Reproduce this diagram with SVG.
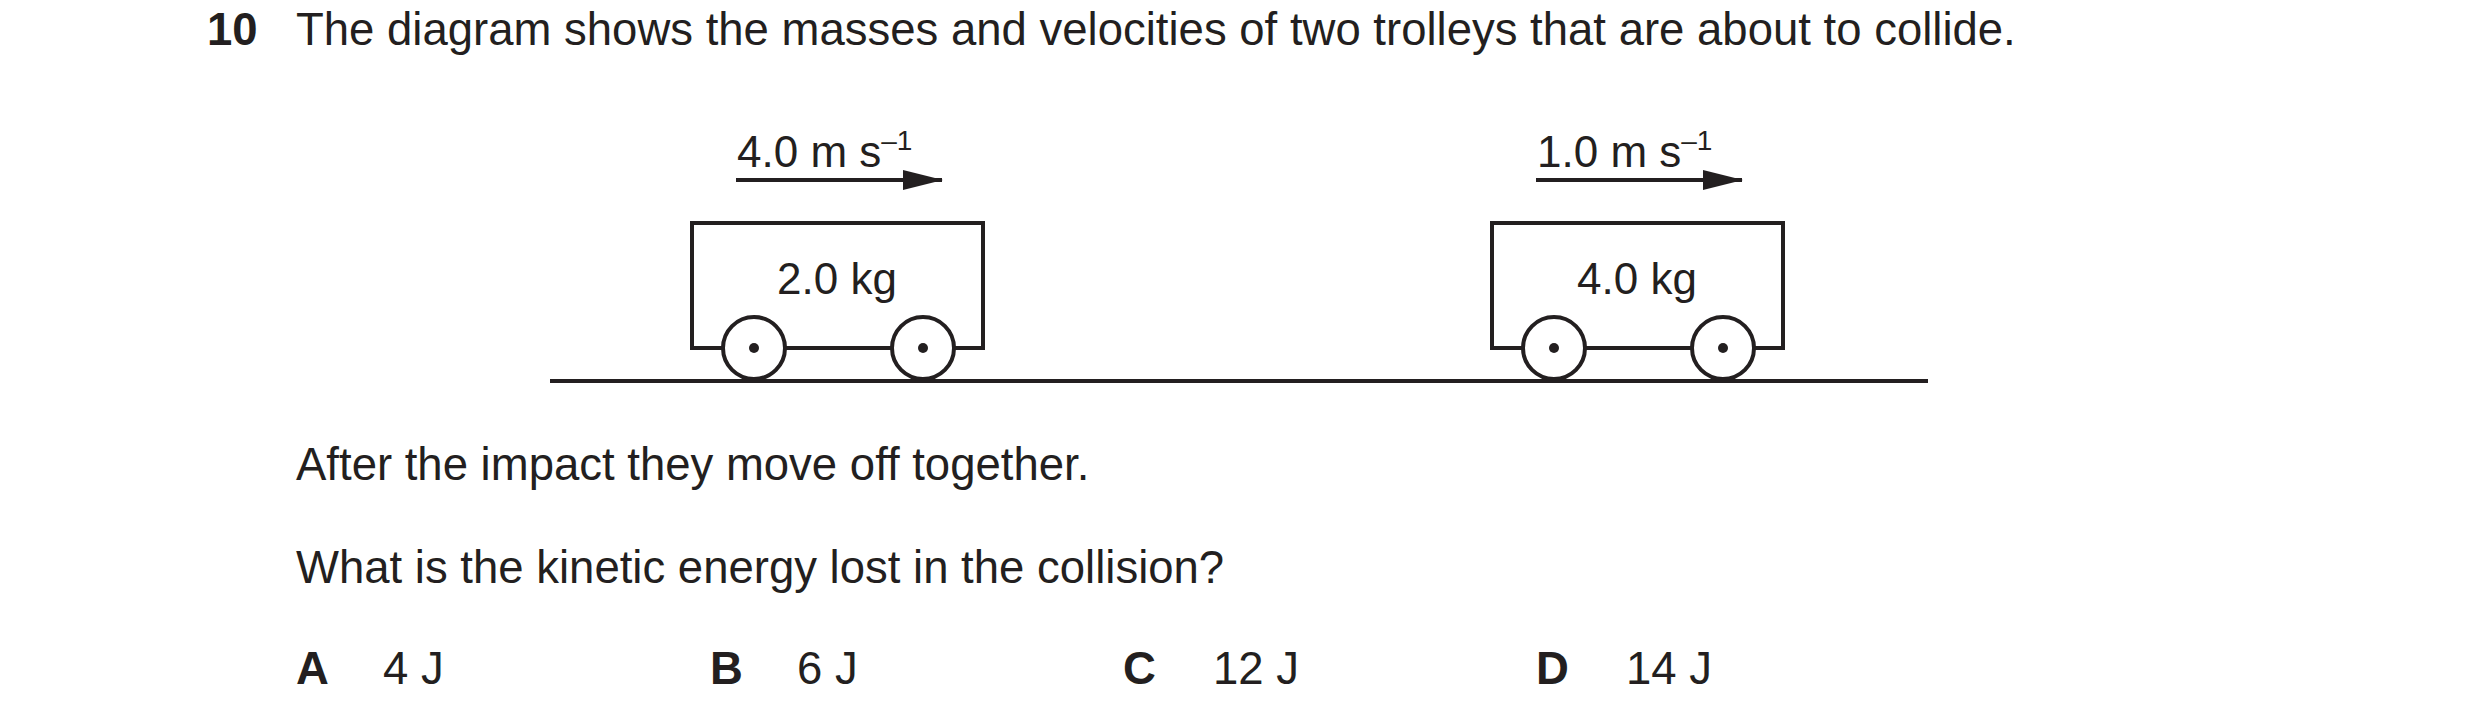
<svg xmlns="http://www.w3.org/2000/svg" width="2480" height="723" viewBox="0 0 2480 723">
<style>
text{font-family:"Liberation Sans",Arial,sans-serif;font-size:45.5px;fill:#231f20}
.b{font-weight:bold}
.s{font-size:44px}
.l{fill:none;stroke:#231f20;stroke-width:4}
.w{fill:#fff;stroke:#231f20;stroke-width:4}
</style>
<defs>
<marker id="ah" markerWidth="40" markerHeight="22" refX="39" refY="11" orient="auto" markerUnits="userSpaceOnUse"><path d="M0,1 L40,11 L0,21 Z" fill="#231f20"/></marker>
</defs>
<rect width="2480" height="723" fill="#fff"/>
<text x="207" y="45" class="b">10</text>
<text x="296" y="45">The diagram shows the masses and velocities of two trolleys that are about to collide.</text>
<g id="ground"><line class="l" x1="550" y1="381" x2="1928" y2="381"/></g>
<g id="trolley1">
<path class="l" d="M692,348 V223 H983 V348 Z"/>
<circle class="w" cx="754" cy="348" r="31"/><circle cx="754" cy="348" r="5" fill="#231f20"/>
<circle class="w" cx="923" cy="348" r="31"/><circle cx="923" cy="348" r="5" fill="#231f20"/>
<text x="837" y="294" text-anchor="middle" class="s">2.0 kg</text>
</g>
<g id="trolley2">
<path class="l" d="M1492,348 V223 H1783 V348 Z"/>
<circle class="w" cx="1554" cy="348" r="31"/><circle cx="1554" cy="348" r="5" fill="#231f20"/>
<circle class="w" cx="1723" cy="348" r="31"/><circle cx="1723" cy="348" r="5" fill="#231f20"/>
<text x="1637" y="294" text-anchor="middle" class="s">4.0 kg</text>
</g>
<g id="connectors">
<line class="l" x1="736" y1="180" x2="942" y2="180" marker-end="url(#ah)"/>
<line class="l" x1="1536" y1="180" x2="1742" y2="180" marker-end="url(#ah)"/>
</g>
<text x="737" y="167" class="s">4.0 m s<tspan dy="-17" font-size="28">–1</tspan></text>
<text x="1537" y="167" class="s">1.0 m s<tspan dy="-17" font-size="28">–1</tspan></text>
<text x="296" y="480">After the impact they move off together.</text>
<text x="296" y="583">What is the kinetic energy lost in the collision?</text>
<text x="296" y="684" class="b">A</text><text x="383" y="684">4 J</text>
<text x="710" y="684" class="b">B</text><text x="797" y="684">6 J</text>
<text x="1123" y="684" class="b">C</text><text x="1213" y="684">12 J</text>
<text x="1536" y="684" class="b">D</text><text x="1626" y="684">14 J</text>
</svg>
